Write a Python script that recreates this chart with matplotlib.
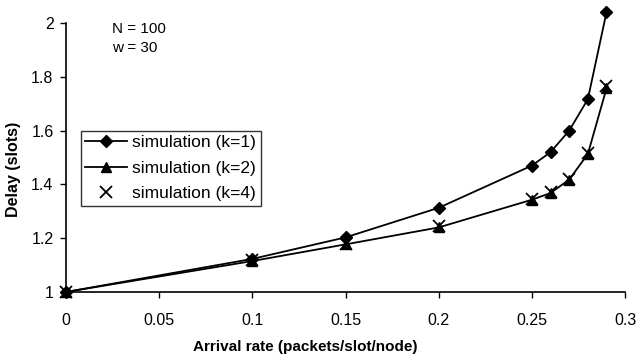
import matplotlib.pyplot as plt

plt.rcParams['font.family'] = ['Liberation Sans', 'DejaVu Sans']

rate = [0, 0.1, 0.15, 0.2, 0.25, 0.26, 0.27, 0.28, 0.29]
delay_k1 = [1.0, 1.123, 1.203, 1.313, 1.47, 1.52, 1.60, 1.717, 2.04]
delay_k2 = [1.0, 1.115, 1.177, 1.24, 1.343, 1.368, 1.418, 1.513, 1.757]
delay_k4 = [1.0, 1.12, 1.18, 1.245, 1.347, 1.372, 1.42, 1.518, 1.765]

xticks = [0, 0.05, 0.1, 0.15, 0.2, 0.25, 0.3]
xlabels = ['0', '0.05', '0.1', '0.15', '0.2', '0.25', '0.3']
yticks = [1, 1.2, 1.4, 1.6, 1.8, 2]
ylabels = ['1', '1.2', '1.4', '1.6', '1.8', '2']

fig = plt.figure(figsize=(6.39, 3.6), dpi=100)
ax = fig.add_axes([0.1033, 0.189, 0.875, 0.747])

ax.plot(rate, delay_k1, color='black', lw=1.3, marker='D', ms=6,
        label='simulation (k=1)', clip_on=False, zorder=3)
ax.plot(rate, delay_k2, color='black', lw=1.3, marker='^', ms=7,
        label='simulation (k=2)', clip_on=False, zorder=3)
ax.plot(rate, delay_k4, color='black', lw=0, marker='x', ms=8, mew=1.3,
        label='simulation (k=4)', clip_on=False, zorder=4)

ax.set_xlim(0, 0.3)
ax.set_ylim(1, 2)
ax.set_xticks(xticks)
ax.set_xticklabels(xlabels)
ax.set_yticks(yticks)
ax.set_yticklabels(ylabels)
ax.tick_params(labelsize=11.5, length=4, width=1, color='black', pad=11)
ax.tick_params(axis='y', pad=5)

ax.spines['top'].set_visible(False)
ax.spines['right'].set_visible(False)
ax.spines['left'].set_linewidth(1.2)
ax.spines['bottom'].set_linewidth(1.2)

ax.set_xlabel('Arrival rate (packets/slot/node)', fontsize=11, fontweight='bold')
ax.set_ylabel('Delay (slots)', fontsize=11.5, fontweight='bold')
ax.xaxis.set_label_coords(0.428, -0.18)
ax.yaxis.set_label_coords(-0.08, 0.457)

ax.text(0.082, 1.005, 'N = 100\nw = 30', transform=ax.transAxes, fontsize=11,
        va='top', ha='left', linespacing=1.45)

leg = ax.legend(loc='upper left', bbox_to_anchor=(0.027, 0.6), frameon=True,
                fancybox=False, edgecolor='black', fontsize=12.5, handlelength=2.4,
                borderpad=0.25, labelspacing=0.6, handletextpad=0.3,
                borderaxespad=0)
leg.get_frame().set_linewidth(1.0)

fig.savefig('out.png', dpi=100)
